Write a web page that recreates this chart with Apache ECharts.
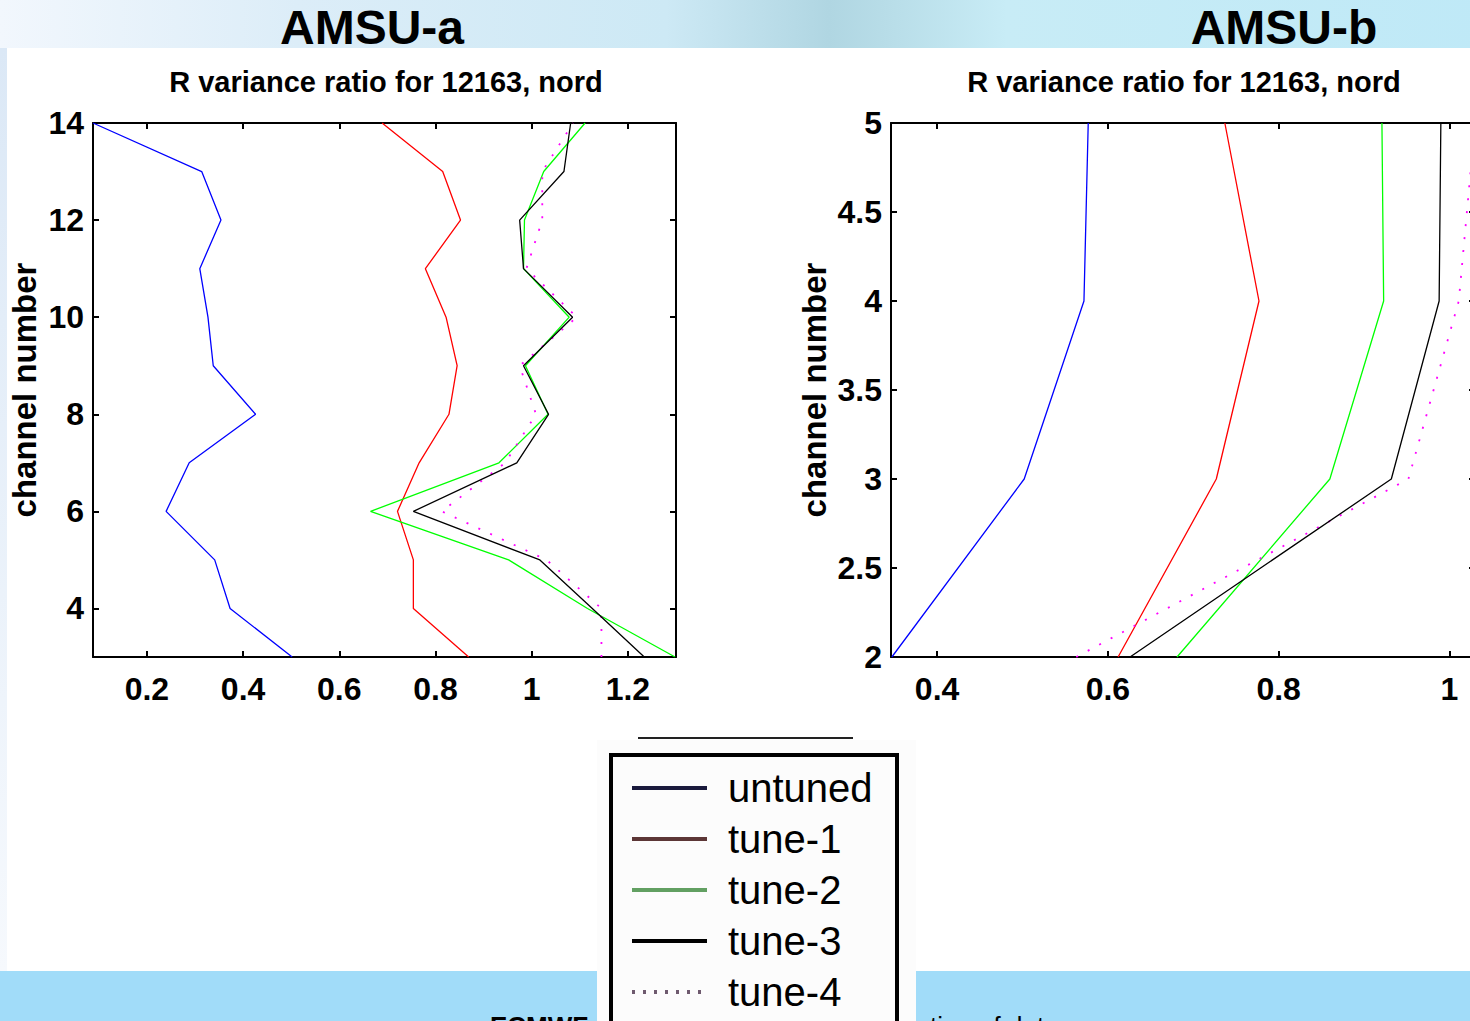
<!DOCTYPE html>
<html><head><meta charset="utf-8">
<script src="https://cdn.jsdelivr.net/npm/echarts@6/dist/echarts.min.js"></script>
<style>html,body{margin:0;padding:0;overflow:hidden;background:#fff;width:1470px;height:1021px}#c{width:1480px;height:1090px}</style>
</head><body><div id="c"></div><script>
// ---- data ----
const channelsA = [3, 4, 5, 6, 7, 8, 9, 10, 11, 12, 13, 14];
const untunedA = [0.502, 0.373, 0.341, 0.240, 0.288, 0.426, 0.338, 0.327, 0.310, 0.354, 0.314, 0.088];
const tune1A   = [0.869, 0.754, 0.754, 0.721, 0.766, 0.828, 0.845, 0.822, 0.779, 0.852, 0.815, 0.689];
const tune2A   = [1.298, 1.116, 0.952, 0.665, 0.932, 1.034, 0.987, 1.078, 0.983, 0.985, 1.025, 1.111];
const tune3A   = [1.234, 1.126, 1.017, 0.754, 0.969, 1.035, 0.983, 1.085, 0.983, 0.975, 1.067, 1.081];
const tune4A   = [1.145, 1.145, 1.031, 0.813, 0.945, 1.009, 0.975, 1.094, 0.989, 1.022, 1.022, 1.086];

const channelsB = [2, 3, 4, 5];
const untunedB = [0.347, 0.502, 0.572, 0.577];
const tune1B   = [0.612, 0.727, 0.777, 0.737];
const tune2B   = [0.681, 0.860, 0.923, 0.921];
const tune3B   = [0.626, 0.932, 0.988, 0.990];
const tune4B   = [0.563, 0.952, 1.011, 1.030];

const seriesNames = ['untuned', 'tune-1', 'tune-2', 'tune-3', 'tune-4'];
const xTicksA = [0.2, 0.4, 0.6, 0.8, 1, 1.2];
const yTicksA = [4, 6, 8, 10, 12, 14];
const xTicksB = [0.4, 0.6, 0.8, 1];
const yTicksB = [2, 2.5, 3, 3.5, 4, 4.5, 5];
const panelTitles = ['AMSU-a', 'AMSU-b'];
const subTitle = 'R variance ratio for 12163, nord';
const yName = 'channel number';

// ---- styling ----
const lineColors = ['#0000ff', '#ff0000', '#00ff00', '#000000', '#ff00ff'];
const legendColors = ['#1a1a3c', '#5c3636', '#62a062', '#000000', '#6e5a6e'];
const tickFont = { fontFamily: '"Liberation Sans", Arial, sans-serif', fontWeight: 'bold', fontSize: 32, color: '#000' };
const axisLineStyle = { color: '#000', width: 2 };

function pairs(xs, ys) { return ys.map((v, i) => [v, xs[i]]); }

function makeAxes(gi, xmin, xmax, ymin, ymax, xt, yt) {
  const xa = [
    { gridIndex: gi, type: 'value', position: 'bottom', min: xmin, max: xmax,
      axisLine: { show: true, lineStyle: axisLineStyle },
      axisTick: { show: true, inside: true, length: 6, lineStyle: axisLineStyle, customValues: xt },
      axisLabel: Object.assign({ show: true, margin: 16, customValues: xt }, tickFont),
      splitLine: { show: false } },
    { gridIndex: gi, type: 'value', position: 'top', min: xmin, max: xmax,
      axisLine: { show: true, lineStyle: axisLineStyle },
      axisTick: { show: true, inside: true, length: 6, lineStyle: axisLineStyle, customValues: xt },
      axisLabel: { show: false }, splitLine: { show: false } }
  ];
  const ya = [
    { gridIndex: gi, type: 'value', position: 'left', min: ymin, max: ymax,
      axisLine: { show: true, lineStyle: axisLineStyle },
      axisTick: { show: true, inside: true, length: 6, lineStyle: axisLineStyle, customValues: yt },
      axisLabel: Object.assign({ show: true, margin: 9, customValues: yt }, tickFont),
      splitLine: { show: false },
      name: yName, nameLocation: 'middle', nameRotate: 90, nameGap: gi === 0 ? 52 : 60,
      nameTextStyle: { fontFamily: '"Liberation Sans", Arial, sans-serif', fontWeight: 'bold', fontSize: 33, color: '#000' } },
    { gridIndex: gi, type: 'value', position: 'right', min: ymin, max: ymax,
      axisLine: { show: true, lineStyle: axisLineStyle },
      axisTick: { show: true, inside: true, length: 6, lineStyle: axisLineStyle, customValues: yt },
      axisLabel: { show: false }, splitLine: { show: false } }
  ];
  return { xa, ya };
}

const A = makeAxes(0, 0.088, 1.3, 3, 14, xTicksA, yTicksA);
const B = makeAxes(1, 0.346, 1.03, 2, 5, xTicksB, yTicksB);

const dataA = [untunedA, tune1A, tune2A, tune3A, tune4A];
const dataB = [untunedB, tune1B, tune2B, tune3B, tune4B];
const series = [];
[[dataA, channelsA, 0], [dataB, channelsB, 2]].forEach(([set, ch, axBase]) => {
  set.forEach((vals, i) => {
    series.push({
      name: seriesNames[i], type: 'line', xAxisIndex: axBase, yAxisIndex: axBase,
      data: pairs(ch, vals), symbol: 'none', showSymbol: false, silent: true, animation: false,
      lineStyle: { color: lineColors[i], width: i === 4 ? 1.8 : 1.3, type: i === 4 ? [2, 11] : 'solid' },
      itemStyle: { color: lineColors[i] }, z: 5 + (i === 3 ? 1 : 0)
    });
  });
});

const topGrad = new echarts.graphic.LinearGradient(0, 0, 1, 0, [
  { offset: 0, color: '#f2f7fd' }, { offset: 0.2, color: '#dcedf8' },
  { offset: 0.45, color: '#cde9f5' }, { offset: 0.56, color: '#b0d6e2' },
  { offset: 0.6, color: '#b8dde8' }, { offset: 0.68, color: '#c8ecf6' },
  { offset: 1, color: '#bfe9f7' }]);
const leftGrad = new echarts.graphic.LinearGradient(0, 0, 0, 1, [
  { offset: 0, color: '#dbe8f6' }, { offset: 1, color: '#f6f9fd' }]);

const graphic = [
  { type: 'rect', z: -20, shape: { x: 0, y: 0, width: 1480, height: 1090 }, style: { fill: '#ffffff' } },
  { type: 'rect', z: -19, shape: { x: 0, y: 0, width: 1480, height: 48 }, style: { fill: topGrad } },
  { type: 'rect', z: -19, shape: { x: 0, y: 48, width: 7, height: 923 }, style: { fill: leftGrad } },
  { type: 'rect', z: -19, shape: { x: 0, y: 971, width: 1480, height: 119 }, style: { fill: '#a1dcf9' } },
  { type: 'rect', z: -18, shape: { x: 597, y: 740, width: 319, height: 350 }, style: { fill: '#fcfcfc' } },
  { type: 'line', z: 1, shape: { x1: 638, y1: 738, x2: 853, y2: 738 }, style: { stroke: '#222', lineWidth: 2 } },
  { type: 'rect', z: 1, shape: { x: 611, y: 755, width: 286, height: 300 }, style: { fill: 'none', stroke: '#000', lineWidth: 4 } },
  { type: 'text', z: 10, x: 372, y: 27, style: { text: panelTitles[0], fill: '#000', textAlign: 'center', textVerticalAlign: 'middle', font: 'bold 48px "Liberation Sans", Arial, sans-serif' } },
  { type: 'text', z: 10, x: 1284, y: 27, style: { text: panelTitles[1], fill: '#000', textAlign: 'center', textVerticalAlign: 'middle', font: 'bold 48px "Liberation Sans", Arial, sans-serif' } },
  { type: 'text', z: 10, x: 386, y: 82, style: { text: subTitle, fill: '#000', textAlign: 'center', textVerticalAlign: 'middle', font: 'bold 29px "Liberation Sans", Arial, sans-serif' } },
  { type: 'text', z: 10, x: 1184, y: 82, style: { text: subTitle, fill: '#000', textAlign: 'center', textVerticalAlign: 'middle', font: 'bold 29px "Liberation Sans", Arial, sans-serif' } },
  { type: 'text', z: 10, x: 490, y: 1013, style: { text: 'ECMWF', fill: '#000', textAlign: 'left', textVerticalAlign: 'top', font: 'bold 26px "Liberation Sans", Arial, sans-serif' } },
  { type: 'text', z: 10, x: 930, y: 1013, style: { text: 'tion of data', fill: '#000', textAlign: 'left', textVerticalAlign: 'top', font: '26px "Liberation Sans", Arial, sans-serif' } }
];

const chart = echarts.init(document.getElementById('c'), null, { renderer: 'svg' });
chart.setOption({
  animation: false,
  backgroundColor: 'transparent',
  grid: [
    { left: 93, top: 123, width: 583, height: 534, containLabel: false },
    { left: 891, top: 123, width: 584, height: 534, containLabel: false }
  ],
  xAxis: A.xa.concat(B.xa),
  yAxis: A.ya.concat(B.ya),
  legend: {
    orient: 'vertical', left: 625, top: 761, selectedMode: false,
    itemWidth: 75, itemHeight: 22, itemGap: 7,
    textStyle: { fontFamily: '"Liberation Sans", Arial, sans-serif', fontSize: 40, color: '#000', lineHeight: 44, padding: [0, 0, 0, 16] },
    data: seriesNames.map((n, i) => ({
      name: n,
      lineStyle: { color: legendColors[i], width: 4, type: i === 4 ? [3, 8] : 'solid' },
      itemStyle: { color: 'rgba(0,0,0,0)', borderWidth: 0, opacity: 0 }
    }))
  },
  graphic: graphic,
  series: series
});
</script></body></html>
